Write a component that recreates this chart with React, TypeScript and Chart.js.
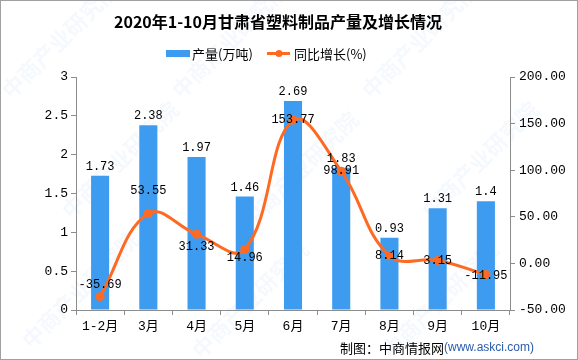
import React, { useEffect, useRef } from "react";
import { Chart, registerables } from "chart.js";

Chart.register(...registerables);

const titleText = "2020年1-10月甘肃省塑料制品产量及增长情况";
const categories = ["1-2月", "3月", "4月", "5月", "6月", "7月", "8月", "9月", "10月"];
const output = [1.73, 2.38, 1.97, 1.46, 2.69, 1.83, 0.93, 1.31, 1.4];
const growth = [-35.69, 53.55, 31.33, 14.96, 153.77, 98.91, 8.14, 3.15, -11.95];
const barLabels = ["1.73", "2.38", "1.97", "1.46", "2.69", "1.83", "0.93", "1.31", "1.4"];
const growthLabels = ["-35.69", "53.55", "31.33", "14.96", "153.77", "98.91", "8.14", "3.15", "-11.95"];
const seriesNames = ["产量(万吨)", "同比增长(%)"];
const sourceMain = "制图：中商情报网";
const sourceUrl = "(www.askci.com)";

const BAR_COLOR = "#3E9CF0";
const LINE_COLOR = "#FF6A22";
const AXIS_COLOR = "#8c8c8c";
const MONO = "'Liberation Mono', 'Noto Sans CJK SC', monospace";
const CJK = "'Noto Sans CJK SC', sans-serif";
const growthLabelDy = [-12, -23, 13, 8, 0, 0, 0, 0, 1];

const decorPlugin = {
  id: "decor",
  beforeDraw(chart: any) {
    const ctx = chart.ctx;
    ctx.save();
    ctx.fillStyle = "#ffffff";
    ctx.fillRect(0, 0, chart.width, chart.height);
    // watermarks
    ctx.fillStyle = "rgba(120,170,220,0.07)";
    ctx.font = `bold 22px ${CJK}`;
    const marks = [
      [60, 40], [230, 40], [420, 40], [120, 160], [300, 170], [480, 160], [80, 290], [250, 300], [440, 300],
    ];
    for (const [mx, my] of marks) {
      ctx.save();
      ctx.translate(mx, my);
      ctx.rotate(-Math.PI / 4);
      ctx.textAlign = "center";
      ctx.textBaseline = "middle";
      ctx.fillText("中商产业研究院", 0, 0);
      ctx.restore();
    }
    ctx.restore();
  },
  afterDraw(chart: any) {
    const ctx = chart.ctx;
    ctx.save();
    // border
    ctx.strokeStyle = "#a0a0a0";
    ctx.lineWidth = 1;
    ctx.strokeRect(0.5, 0.5, chart.width - 1, chart.height - 1);
    // title
    ctx.fillStyle = "#000";
    ctx.font = `bold 16px ${CJK}`;
    ctx.textAlign = "center";
    ctx.textBaseline = "middle";
    ctx.fillText(titleText, 278, 22);
    // legend
    ctx.font = `13px ${CJK}`;
    ctx.textAlign = "left";
    ctx.fillStyle = BAR_COLOR;
    ctx.fillRect(166, 50, 24, 7);
    ctx.fillStyle = "#000";
    ctx.fillText(seriesNames[0], 192, 54);
    ctx.strokeStyle = LINE_COLOR;
    ctx.lineWidth = 3;
    ctx.beginPath();
    ctx.moveTo(267, 53.5);
    ctx.lineTo(290, 53.5);
    ctx.stroke();
    ctx.fillStyle = LINE_COLOR;
    ctx.beginPath();
    ctx.arc(279, 53.5, 3.5, 0, Math.PI * 2);
    ctx.fill();
    ctx.fillStyle = "#000";
    ctx.fillText(seriesNames[1], 294, 54);
    // source
    ctx.font = `13px ${CJK}`;
    ctx.fillStyle = "#000";
    ctx.textAlign = "left";
    const w1 = ctx.measureText(sourceMain).width;
    ctx.font = `12px 'Liberation Sans', sans-serif`;
    const w2 = ctx.measureText(sourceUrl).width;
    const startX = 534 - w1 - w2;
    ctx.font = `13px ${CJK}`;
    ctx.fillText(sourceMain, startX, 348);
    ctx.font = `12px 'Liberation Sans', sans-serif`;
    ctx.fillStyle = "#2a5caa";
    ctx.fillText(sourceUrl, startX + w1, 348);
    ctx.restore();
  },
  afterDatasetsDraw(chart: any) {
    const ctx = chart.ctx;
    ctx.save();
    ctx.font = `12px ${MONO}`;
    ctx.fillStyle = "#000";
    ctx.textAlign = "center";
    const barMeta = chart.getDatasetMeta(1);
    barMeta.data.forEach((el: any, i: number) => {
      ctx.textBaseline = "bottom";
      ctx.fillText(barLabels[i], el.x, el.y - 3);
    });
    const lineMeta = chart.getDatasetMeta(0);
    lineMeta.data.forEach((el: any, i: number) => {
      ctx.textBaseline = "middle";
      ctx.fillText(growthLabels[i], el.x, el.y + growthLabelDy[i]);
    });
    ctx.restore();
  },
};

export default function App() {
  const ref = useRef<HTMLCanvasElement>(null);
  useEffect(() => {
    if (!ref.current) return;
    const chart = new Chart(ref.current, {
      type: "bar",
      data: {
        labels: categories,
        datasets: [
          {
            type: "line",
            label: seriesNames[1],
            data: growth,
            yAxisID: "y1",
            borderColor: LINE_COLOR,
            backgroundColor: LINE_COLOR,
            borderWidth: 3,
            tension: 0.4,
            pointRadius: 4.5,
            pointBackgroundColor: LINE_COLOR,
            pointBorderWidth: 0,
            order: 0,
          } as any,
          {
            type: "bar",
            label: seriesNames[0],
            data: output,
            yAxisID: "y",
            backgroundColor: BAR_COLOR,
            categoryPercentage: 1,
            barPercentage: 0.375,
            order: 1,
          } as any,
        ],
      },
      options: {
        animation: false,
        responsive: false,
        maintainAspectRatio: false,
        layout: { padding: { top: 77, left: 0, right: 0, bottom: 0 } },
        plugins: { legend: { display: false }, title: { display: false }, tooltip: { enabled: false } },
        scales: {
          x: {
            offset: true,
            grid: { drawOnChartArea: false, offset: true, tickLength: 5, color: AXIS_COLOR },
            border: { color: AXIS_COLOR },
            ticks: { color: "#000", font: { family: MONO, size: 13 }, padding: 4, maxRotation: 0 },
            afterFit: (s: any) => { s.height = 50; },
          },
          y: {
            position: "left",
            min: 0,
            max: 3,
            grid: { drawOnChartArea: false, tickLength: 5, color: AXIS_COLOR },
            border: { color: AXIS_COLOR },
            ticks: {
              stepSize: 0.5,
              color: "#000",
              font: { family: MONO, size: 13 },
              padding: 3,
              callback: (v: any) => String(Number(v)),
            },
            afterFit: (s: any) => { s.width = 76; },
          },
          y1: {
            position: "right",
            min: -50,
            max: 200,
            grid: { drawOnChartArea: false, tickLength: 5, color: AXIS_COLOR },
            border: { color: AXIS_COLOR },
            ticks: {
              stepSize: 50,
              color: "#000",
              font: { family: MONO, size: 13 },
              padding: 4,
              callback: (v: any) => Number(v).toFixed(2),
            },
            afterFit: (s: any) => { s.width = 68; },
          },
        },
      },
      plugins: [decorPlugin],
    });
    return () => chart.destroy();
  }, []);
  return (
    <div style={{ position: "fixed", left: 0, top: 0, width: 578, height: 360, background: "#fff" }}>
      <canvas ref={ref} width={578} height={360} style={{ width: 578, height: 360, display: "block" }} />
    </div>
  );
}
